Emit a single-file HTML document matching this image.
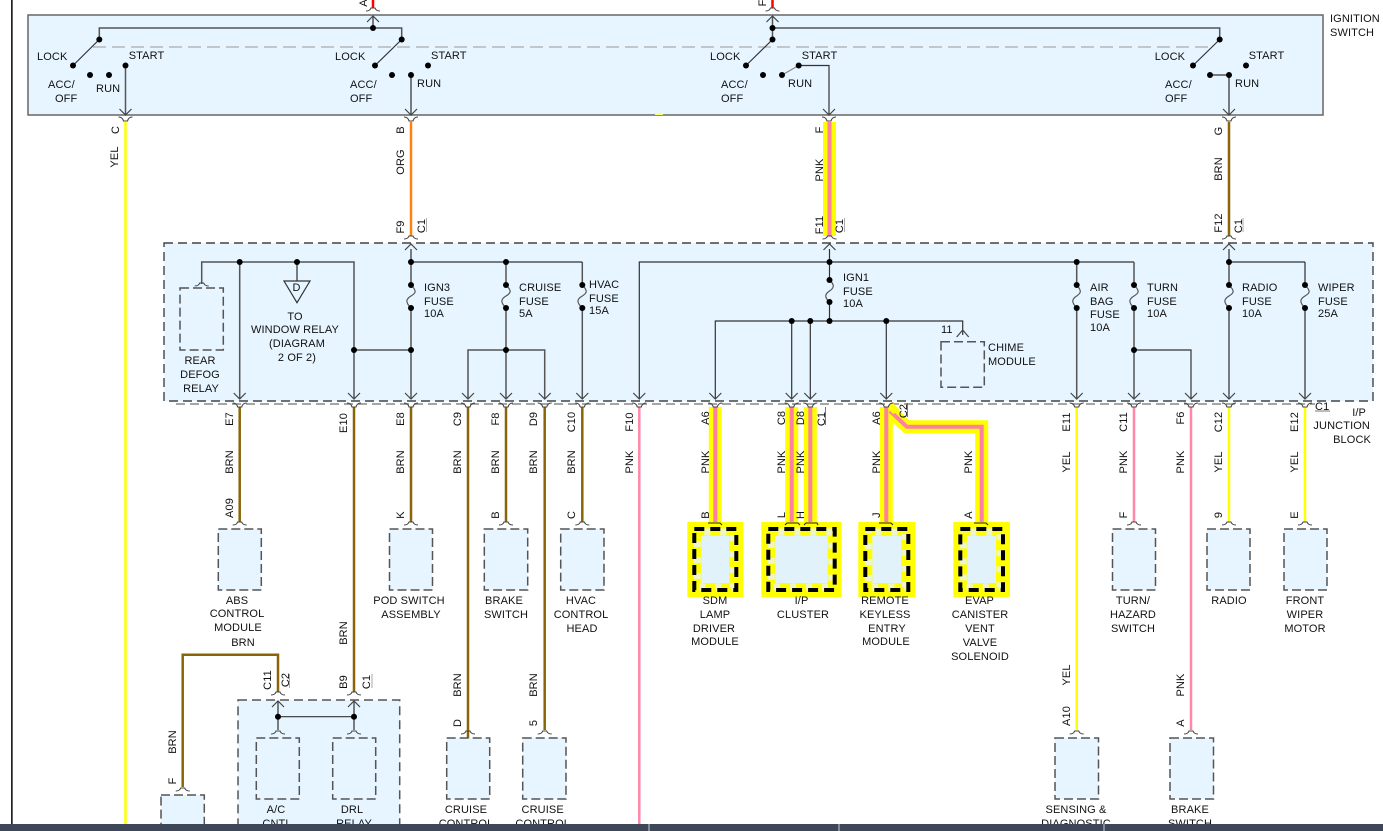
<!DOCTYPE html>
<html><head><meta charset="utf-8"><style>
html,body{margin:0;padding:0;background:#fff;width:1383px;height:831px;overflow:hidden}
svg{display:block}
text{font-family:"Liberation Sans",sans-serif;font-size:11px;fill:#111;letter-spacing:.12px}
.m{text-anchor:middle}
.n{fill:none;stroke:#555;stroke-width:1.5}
.d{fill:none;stroke:#333;stroke-width:1.2}
.b{fill:#e6f5ff;stroke:#555;stroke-width:1.5;stroke-dasharray:9 4}
.br{fill:none;stroke:#8a6508;stroke-width:2.5}
.ye{fill:none;stroke:#ffff00;stroke-width:2.5}
.pk{fill:none;stroke:#ff88a8;stroke-width:2.5}
.hy{fill:none;stroke:#ffff00;stroke-width:13}
.hp{fill:none;stroke:#ff80a0;stroke-width:4}
.hb{fill:#e2f2fa;stroke:#ffff00;stroke-width:14}
.hg{fill:none;stroke:#eef5c8;stroke-width:7;stroke-dasharray:6 10;stroke-dashoffset:-7}
.hk{fill:none;stroke:#000;stroke-width:4;stroke-dasharray:10 6}
</style></head><body>
<svg width="1383" height="831" viewBox="0 0 1383 831" xmlns="http://www.w3.org/2000/svg">
<defs>
<g id="dn"><path d="M-6,-6 L0,0 L6,-6 M0,0" fill="none" stroke="#444" stroke-width="1.2"/></g>
<g id="up"><path d="M-6,6 L0,0 L6,6" fill="none" stroke="#444" stroke-width="1.2"/></g>
<g id="sm"><path d="M-7,-3 Q-3,-3 -2,1 L2,1 Q3,-3 7,-3" fill="none" stroke="#444" stroke-width="1.1"/></g>
<g id="ar"><path d="M-7,3 Q-3,3 -2,0 L2,0 Q3,3 7,3" fill="none" stroke="#444" stroke-width="1.1"/></g>
<circle id="o" r="3" fill="#000"/>
</defs>

<rect x="11" y="0" width="1.7" height="831" fill="#222"/>

<!-- ignition switch -->
<rect x="28" y="15" width="1295" height="100" fill="#e6f5ff" stroke="#666" stroke-width="1.5"/>
<line x1="93" y1="47" x2="1212" y2="47" stroke="#aaa" stroke-width="1.2" stroke-dasharray="13 6"/>
<rect x="655" y="113.5" width="8" height="1.5" fill="#ffff66"/>
<path class="n" d="M99.3,39.5 V28 H401.7 V39.5 M373,16 V28 M772.5,16 V39.5 M772.5,28 H1219.7 V39.5"/>
<line x1="373" y1="0" x2="373" y2="8" stroke="#f00" stroke-width="2.5"/>
<line x1="772.5" y1="0" x2="772.5" y2="8" stroke="#f00" stroke-width="2.5"/>
<use href="#ar" x="373" y="8"/><use href="#ar" x="772.5" y="8"/>
<use href="#up" x="373" y="16"/><use href="#up" x="772.5" y="16"/>
<text transform="translate(367,3) rotate(-90)" class="m">A</text>
<text transform="translate(766,3) rotate(-90)" class="m">F</text>
<path class="d" d="M99.3,39.5 L73,65.5 M401.7,39.5 L375,65.5 M772.5,39.5 L746,65.5 M1219.7,39.5 L1193,65.5"/>
<path class="n" d="M125.5,65.5 V115 M411,75 V115 M1229,75 V115 M1210,75 H1229"/>
<path d="M782,75 L798.7,65.5" stroke="#888" stroke-width="1.2" fill="none"/>
<path class="d" d="M798.7,65.5 H829 V115"/>
<g>
<use href="#o" x="373" y="28"/><use href="#o" x="772.5" y="28"/>
<use href="#o" x="99.3" y="39.5"/><use href="#o" x="401.7" y="39.5"/><use href="#o" x="772.5" y="39.5"/><use href="#o" x="1219.7" y="39.5"/>
<use href="#o" x="73" y="65.5"/><use href="#o" x="90" y="75"/><use href="#o" x="109" y="75"/><use href="#o" x="125.5" y="65.5"/>
<use href="#o" x="375" y="65.5"/><use href="#o" x="392" y="75"/><use href="#o" x="411" y="75"/><use href="#o" x="428" y="65.5"/>
<use href="#o" x="746" y="65.5"/><use href="#o" x="763" y="75"/><use href="#o" x="782" y="75"/><use href="#o" x="798.7" y="65.5"/>
<use href="#o" x="1193" y="65.5"/><use href="#o" x="1210" y="75"/><use href="#o" x="1229" y="75"/><use href="#o" x="1246" y="65.5"/>
</g>
<use href="#dn" x="125.5" y="115"/><use href="#dn" x="411" y="115"/><use href="#dn" x="829" y="115"/><use href="#dn" x="1229" y="115"/>
<use href="#sm" x="125.5" y="120"/><use href="#sm" x="411" y="120"/><use href="#sm" x="829" y="120"/><use href="#sm" x="1229" y="120"/>
<text x="37" y="60">LOCK</text><text x="128.7" y="59">START</text><text x="48" y="88">ACC/</text><text x="55" y="102">OFF</text><text x="96" y="92">RUN</text>
<text x="335" y="60">LOCK</text><text x="431" y="59">START</text><text x="350" y="88">ACC/</text><text x="350" y="102">OFF</text><text x="417" y="87">RUN</text>
<text x="710" y="60">LOCK</text><text x="801.7" y="59">START</text><text x="721" y="88">ACC/</text><text x="721" y="102">OFF</text><text x="788" y="87">RUN</text>
<text x="1154.7" y="60">LOCK</text><text x="1248.7" y="59">START</text><text x="1165" y="88">ACC/</text><text x="1165" y="102">OFF</text><text x="1235" y="87">RUN</text>
<text x="1330" y="22">IGNITION</text><text x="1330" y="36">SWITCH</text>

<!-- junction block -->
<rect x="164" y="243" width="1209" height="158" fill="#e6f5ff" stroke="#444" stroke-width="1.4" stroke-dasharray="9 5"/>
<line x1="176" y1="404" x2="1315" y2="404" stroke="#888" stroke-width="1.4" stroke-dasharray="9 5"/>

<!-- inner wires -->
<path class="n" d="M201.7,284 V262 H354 V399 M239.7,262 V399 M297,262 V281 M354,350 H411 M411,249 V285 M411,308 V399 M506,262 V285 M506,308 V399 M468,399 V350 H544.7 V399 M582.3,262 V285 M582.3,308 V399"/>
<path class="d" d="M411,262 H582.3 M639.3,399 V262 H1134 M829.5,249 V280 M829.5,302 V321 M715.3,399 V321 H962.7 V335 M791.7,321 V399 M810.3,321 V399 M886.3,321 V399 M1134,350 H1191 V399"/>
<path class="n" d="M1076.7,262 V285 M1076.7,308 V399 M1134,262 V285 M1134,308 V399 M1229,249 V285 M1229,308 V399 M1305,262 V285 M1305,308 V399"/>
<path class="d" d="M1229,262 H1305"/>
<!-- fuses -->
<path d="M411,285 C417,291 416,293 411,296 C406,299 405,302 411,308 M506,285 C512,291 511,293 506,296 C501,299 500,302 506,308 M582.3,285 C588,291 587,293 582.3,296 C577,299 576,302 582.3,308 M829.5,280 C835,285 834,288 829.5,291 C825,294 824,297 829.5,302 M1076.7,285 C1082,291 1081,293 1076.7,296 C1072,299 1071,302 1076.7,308 M1134,285 C1140,291 1139,293 1134,296 C1129,299 1128,302 1134,308 M1229,285 C1235,291 1234,293 1229,296 C1224,299 1223,302 1229,308 M1305,285 C1311,291 1310,293 1305,296 C1300,299 1299,302 1305,308" fill="none" stroke="#555" stroke-width="1.2"/>
<g>
<use href="#o" x="239.7" y="262"/><use href="#o" x="297" y="262"/><use href="#o" x="354" y="350"/><use href="#o" x="411" y="262"/><use href="#o" x="411" y="350"/>
<use href="#o" x="411" y="285"/><use href="#o" x="411" y="308"/><use href="#o" x="506" y="262"/><use href="#o" x="506" y="285"/><use href="#o" x="506" y="308"/><use href="#o" x="506" y="350"/>
<use href="#o" x="582.3" y="285"/><use href="#o" x="582.3" y="308"/>
<use href="#o" x="829.5" y="262"/><use href="#o" x="829.5" y="280"/><use href="#o" x="829.5" y="302"/><use href="#o" x="829.5" y="321"/>
<use href="#o" x="791.7" y="321"/><use href="#o" x="810.3" y="321"/><use href="#o" x="886.3" y="321"/>
<use href="#o" x="1076.7" y="262"/><use href="#o" x="1076.7" y="285"/><use href="#o" x="1076.7" y="308"/>
<use href="#o" x="1134" y="285"/><use href="#o" x="1134" y="308"/><use href="#o" x="1134" y="350"/>
<use href="#o" x="1229" y="262"/><use href="#o" x="1229" y="285"/><use href="#o" x="1229" y="308"/>
<use href="#o" x="1305" y="285"/><use href="#o" x="1305" y="308"/>
</g>
<rect class="b" x="180" y="288" width="43.3" height="62"/>
<use href="#ar" x="201.7" y="283"/>
<path d="M284,281 H310 L297,302.7 Z" fill="none" stroke="#333" stroke-width="1.2"/>
<text x="296.5" y="291" class="m">D</text>
<text class="m" x="295" y="320">TO</text><text class="m" x="295" y="333">WINDOW RELAY</text><text class="m" x="297" y="347">(DIAGRAM</text><text class="m" x="297" y="361">2 OF 2)</text>
<text class="m" x="200" y="364">REAR</text><text class="m" x="200" y="378">DEFOG</text><text class="m" x="201" y="392">RELAY</text>
<text x="424" y="291">IGN3</text><text x="424" y="305">FUSE</text><text x="424" y="317">10A</text>
<text x="519" y="291">CRUISE</text><text x="519" y="305">FUSE</text><text x="519" y="317">5A</text>
<text x="589" y="288">HVAC</text><text x="589" y="302">FUSE</text><text x="589" y="314">15A</text>
<text x="843" y="281">IGN1</text><text x="843" y="295">FUSE</text><text x="843" y="307">10A</text>
<text x="1090" y="291">AIR</text><text x="1090" y="305">BAG</text><text x="1090" y="318">FUSE</text><text x="1090" y="331">10A</text>
<text x="1147" y="291">TURN</text><text x="1147" y="305">FUSE</text><text x="1147" y="317">10A</text>
<text x="1242" y="291">RADIO</text><text x="1242" y="305">FUSE</text><text x="1242" y="317">10A</text>
<text x="1318" y="291">WIPER</text><text x="1318" y="305">FUSE</text><text x="1318" y="317">25A</text>
<rect class="b" x="941" y="341.7" width="43.3" height="45.6"/>
<path d="M956.7,337 L962.7,330 L968.7,337" fill="none" stroke="#444" stroke-width="1.2"/>
<text x="941" y="333">11</text>
<text x="988" y="351">CHIME</text><text x="988" y="365">MODULE</text>

<!-- upper wires -->
<line class="br" x1="1229" y1="122" x2="1229" y2="236"/>
<line x1="411" y1="122" x2="411" y2="236" fill="none" stroke="#ff8210" stroke-width="2.5"/>
<line class="hy" x1="829.5" y1="122" x2="829.5" y2="236"/><line class="hp" x1="829.5" y1="122" x2="829.5" y2="236"/>
<use href="#ar" x="411" y="236"/><use href="#ar" x="829.5" y="236"/><use href="#ar" x="1229" y="236"/>
<use href="#up" x="411" y="244"/><use href="#up" x="829.5" y="244"/><use href="#up" x="1229" y="244"/>
<line class="ye" x1="125.5" y1="122" x2="125.5" y2="825"/>

<!-- lower wires -->
<path class="br" d="M239.7,407 V522 M354,407 V692 M411,407 V522 M468,407 V738 M506,407 V522 M544.7,407 V730 M582.3,407 V522"/>
<path class="pk" d="M639.3,407 V825 M1134,407 V522 M1191,407 V730"/>
<path class="ye" d="M1076.7,407 V730 M1229,407 V522 M1305,407 V522"/>
<path class="br" d="M182.7,787 V654.7 H278 V692"/>

<path class="hy" d="M715.3,407 V522 M791.7,407 V522 M810.3,407 V522 M886.3,407 V522 M890,411 L906.7,426.7 H981.7 V522"/>
<path class="hp" d="M715.3,407 V522 M791.7,407 V522 M810.3,407 V522 M886.3,407 V522 M890,411 L906.7,426.7 H981.7 V522"/>
<polygon points="887,407 892,402 900,410 893,414" fill="#ffff00"/>

<!-- arrows at block bottom -->
<g>
<use href="#dn" x="239.7" y="399"/><use href="#dn" x="354" y="399"/><use href="#dn" x="411" y="399"/><use href="#dn" x="468" y="399"/><use href="#dn" x="506" y="399"/><use href="#dn" x="544.7" y="399"/><use href="#dn" x="582.3" y="399"/><use href="#dn" x="639.3" y="399"/><use href="#dn" x="715.3" y="399"/><use href="#dn" x="791.7" y="399"/><use href="#dn" x="810.3" y="399"/><use href="#dn" x="886.3" y="399"/><use href="#dn" x="1076.7" y="399"/><use href="#dn" x="1134" y="399"/><use href="#dn" x="1191" y="399"/><use href="#dn" x="1229" y="399"/><use href="#dn" x="1305" y="399"/>
<use href="#sm" x="239.7" y="406"/><use href="#sm" x="354" y="406"/><use href="#sm" x="411" y="406"/><use href="#sm" x="468" y="406"/><use href="#sm" x="506" y="406"/><use href="#sm" x="544.7" y="406"/><use href="#sm" x="582.3" y="406"/><use href="#sm" x="639.3" y="406"/><use href="#sm" x="715.3" y="406"/><use href="#sm" x="791.7" y="406"/><use href="#sm" x="810.3" y="406"/><use href="#sm" x="886.3" y="406"/><use href="#sm" x="1076.7" y="406"/><use href="#sm" x="1134" y="406"/><use href="#sm" x="1191" y="406"/><use href="#sm" x="1229" y="406"/><use href="#sm" x="1305" y="406"/>
</g>

<!-- module boxes -->
<rect class="b" x="218.3" y="529" width="43" height="61"/>
<rect class="b" x="389.5" y="529" width="43" height="61"/>
<rect class="b" x="484.3" y="529" width="43.4" height="61"/>
<rect class="b" x="560.7" y="529" width="43.3" height="61"/>
<rect class="b" x="1112.5" y="529" width="43" height="61"/>
<rect class="b" x="1207" y="529" width="43" height="61"/>
<rect class="b" x="1284" y="529" width="43" height="61"/>
<use href="#ar" x="239.7" y="522"/><use href="#ar" x="411" y="522"/><use href="#ar" x="506" y="522"/><use href="#ar" x="582.3" y="522"/><use href="#ar" x="1134" y="522"/><use href="#ar" x="1229" y="522"/><use href="#ar" x="1305" y="522"/>

<rect class="b" x="446.7" y="738" width="43" height="61"/>
<rect class="b" x="522.7" y="738" width="43.3" height="61"/>
<rect class="b" x="1055" y="738" width="43.5" height="61"/>
<rect class="b" x="1170" y="738" width="43.5" height="61"/>
<use href="#ar" x="468" y="731"/><use href="#ar" x="544.7" y="731"/><use href="#ar" x="1076.7" y="731"/><use href="#ar" x="1191" y="731"/>

<!-- highlighted boxes -->
<rect class="hb" x="694.3" y="529" width="42" height="61"/><rect class="hg" x="697.3" y="532" width="36" height="55"/><rect class="hk" x="694.3" y="529" width="42" height="61"/>
<rect class="hb" x="768.3" y="529" width="66.4" height="61"/><rect class="hg" x="771.3" y="532" width="60.4" height="55"/><rect class="hk" x="768.3" y="529" width="66.4" height="61"/>
<rect class="hb" x="865.3" y="529" width="43" height="61"/><rect class="hg" x="868.3" y="532" width="37" height="55"/><rect class="hk" x="865.3" y="529" width="43" height="61"/>
<rect class="hb" x="960.3" y="529" width="42.7" height="61"/><rect class="hg" x="963.3" y="532" width="36.7" height="55"/><rect class="hk" x="960.3" y="529" width="42.7" height="61"/>
<path d="M708,523 H720 L722,525 M785,525 L787,523 H798 L800,525 M804,525 L806,523 H817 L818,525 M879,523 H891 L893,525 M974,523 H986 L988,525" fill="none" stroke="#222" stroke-width="1"/>

<!-- DRL block -->
<rect x="238" y="700" width="161.7" height="140" fill="#e6f5ff" stroke="#555" stroke-width="1.5" stroke-dasharray="9 5"/>
<path class="n" d="M278,701 V730 M354,701 V730"/>
<path class="d" d="M278,716.7 H354"/>
<use href="#o" x="278" y="716.7"/><use href="#o" x="354" y="716.7"/>
<use href="#ar" x="278" y="692"/><use href="#ar" x="354" y="692"/>
<use href="#up" x="278" y="701"/><use href="#up" x="354" y="701"/>
<rect class="b" x="256.3" y="738" width="43" height="61"/>
<rect class="b" x="332.7" y="738" width="43" height="61"/>
<use href="#ar" x="278" y="731"/><use href="#ar" x="354" y="731"/>
<rect class="b" x="161" y="795" width="43.3" height="40"/>
<use href="#ar" x="182.7" y="788"/>

<!-- rotated labels -->
<g>
<text transform="translate(119,130) rotate(-90)" class="m">C</text>
<text transform="translate(118,157) rotate(-90)" class="m">YEL</text>
<text transform="translate(404,130) rotate(-90)" class="m">B</text>
<text transform="translate(404,162) rotate(-90)" class="m">ORG</text>
<text transform="translate(404,227) rotate(-90)" class="m">F9</text>
<text transform="translate(425,226) rotate(-90)" class="m">C1</text>
<text transform="translate(823,130) rotate(-90)" class="m">F</text>
<text transform="translate(823,170) rotate(-90)" class="m">PNK</text>
<text transform="translate(823,225) rotate(-90)" class="m">F11</text>
<text transform="translate(843,226) rotate(-90)" class="m">C1</text>
<text transform="translate(1222,131) rotate(-90)" class="m">G</text>
<text transform="translate(1222,169) rotate(-90)" class="m">BRN</text>
<text transform="translate(1222,223) rotate(-90)" class="m">F12</text>
<text transform="translate(1242,226) rotate(-90)" class="m">C1</text>

<text transform="translate(233,419) rotate(-90)" class="m">E7</text>
<text transform="translate(233,462) rotate(-90)" class="m">BRN</text>
<text transform="translate(233,508) rotate(-90)" class="m">A09</text>
<text transform="translate(347,423) rotate(-90)" class="m">E10</text>
<text transform="translate(347,633) rotate(-90)" class="m">BRN</text>
<text transform="translate(404,419) rotate(-90)" class="m">E8</text>
<text transform="translate(404,462) rotate(-90)" class="m">BRN</text>
<text transform="translate(404,515) rotate(-90)" class="m">K</text>
<text transform="translate(461,419) rotate(-90)" class="m">C9</text>
<text transform="translate(461,462) rotate(-90)" class="m">BRN</text>
<text transform="translate(461,685) rotate(-90)" class="m">BRN</text>
<text transform="translate(461,723) rotate(-90)" class="m">D</text>
<text transform="translate(499,419) rotate(-90)" class="m">F8</text>
<text transform="translate(499,462) rotate(-90)" class="m">BRN</text>
<text transform="translate(499,515) rotate(-90)" class="m">B</text>
<text transform="translate(537,419) rotate(-90)" class="m">D9</text>
<text transform="translate(537,462) rotate(-90)" class="m">BRN</text>
<text transform="translate(537,685) rotate(-90)" class="m">BRN</text>
<text transform="translate(537,723) rotate(-90)" class="m">5</text>
<text transform="translate(575,422) rotate(-90)" class="m">C10</text>
<text transform="translate(575,462) rotate(-90)" class="m">BRN</text>
<text transform="translate(575,515) rotate(-90)" class="m">C</text>
<text transform="translate(633,422) rotate(-90)" class="m">F10</text>
<text transform="translate(633,462) rotate(-90)" class="m">PNK</text>

<text transform="translate(709,418) rotate(-90)" class="m">A6</text>
<text transform="translate(709,462) rotate(-90)" class="m">PNK</text>
<text transform="translate(709,515) rotate(-90)" class="m">B</text>
<text transform="translate(785,418) rotate(-90)" class="m">C8</text>
<text transform="translate(785,462) rotate(-90)" class="m">PNK</text>
<text transform="translate(785,515) rotate(-90)" class="m">L</text>
<text transform="translate(804,418) rotate(-90)" class="m">D8</text>
<text transform="translate(804,462) rotate(-90)" class="m">PNK</text>
<text transform="translate(804,515) rotate(-90)" class="m">H</text>
<text transform="translate(825,419) rotate(-90)" class="m">C1</text>
<text transform="translate(880,418) rotate(-90)" class="m">A6</text>
<text transform="translate(880,462) rotate(-90)" class="m">PNK</text>
<text transform="translate(880,515) rotate(-90)" class="m">J</text>
<text transform="translate(907,411) rotate(-90)" class="m">C2</text>
<text transform="translate(972,462) rotate(-90)" class="m">PNK</text>
<text transform="translate(972,515) rotate(-90)" class="m">A</text>

<text transform="translate(1070,422) rotate(-90)" class="m">E11</text>
<text transform="translate(1070,462) rotate(-90)" class="m">YEL</text>
<text transform="translate(1070,675) rotate(-90)" class="m">YEL</text>
<text transform="translate(1070,716) rotate(-90)" class="m">A10</text>
<text transform="translate(1127,422) rotate(-90)" class="m">C11</text>
<text transform="translate(1127,462) rotate(-90)" class="m">PNK</text>
<text transform="translate(1127,515) rotate(-90)" class="m">F</text>
<text transform="translate(1184,418) rotate(-90)" class="m">F6</text>
<text transform="translate(1184,462) rotate(-90)" class="m">PNK</text>
<text transform="translate(1184,685) rotate(-90)" class="m">PNK</text>
<text transform="translate(1184,723) rotate(-90)" class="m">A</text>
<text transform="translate(1222,422) rotate(-90)" class="m">C12</text>
<text transform="translate(1222,462) rotate(-90)" class="m">YEL</text>
<text transform="translate(1222,515) rotate(-90)" class="m">9</text>
<text transform="translate(1298,422) rotate(-90)" class="m">E12</text>
<text transform="translate(1298,462) rotate(-90)" class="m">YEL</text>
<text transform="translate(1298,515) rotate(-90)" class="m">E</text>

<text transform="translate(176,742) rotate(-90)" class="m">BRN</text>
<text transform="translate(176,781) rotate(-90)" class="m">F</text>
<text transform="translate(271,680) rotate(-90)" class="m">C11</text>
<text transform="translate(289,680) rotate(-90)" class="m">C2</text>
<text transform="translate(347,682) rotate(-90)" class="m">B9</text>
<text transform="translate(370,682) rotate(-90)" class="m">C1</text>
</g>
<path d="M426.5,218 V232 M844.5,218 V232 M1243,218 V232 M289.5,674 V688 M372,674 V688" stroke="#aaa" stroke-width="1" fill="none"/>
<path d="M825.5,407 V425 M907.5,403 V417" stroke="#555" stroke-width="0.8" fill="none"/>

<text x="1315" y="410">C1</text>
<line x1="1315" y1="411" x2="1330" y2="411" stroke="#555" stroke-width="0.8"/>
<text x="1366" y="416" text-anchor="end">I/P</text>
<text x="1370" y="429" text-anchor="end">JUNCTION</text>
<text x="1371" y="443" text-anchor="end">BLOCK</text>

<!-- module labels -->
<g class="m">
<text class="m" x="237" y="604">ABS</text><text class="m" x="237" y="617">CONTROL</text><text class="m" x="238" y="631">MODULE</text><text class="m" x="243" y="646">BRN</text>
<text class="m" x="409" y="604">POD SWITCH</text><text class="m" x="411" y="618">ASSEMBLY</text>
<text class="m" x="504" y="604">BRAKE</text><text class="m" x="506" y="618">SWITCH</text>
<text class="m" x="581" y="604">HVAC</text><text class="m" x="581" y="618">CONTROL</text><text class="m" x="582" y="632">HEAD</text>
<text class="m" x="715" y="604">SDM</text><text class="m" x="715" y="618">LAMP</text><text class="m" x="714" y="632">DRIVER</text><text class="m" x="715" y="645">MODULE</text>
<text class="m" x="801.5" y="604">I/P</text><text class="m" x="803" y="618">CLUSTER</text>
<text class="m" x="885" y="604">REMOTE</text><text class="m" x="885" y="618">KEYLESS</text><text class="m" x="887" y="632">ENTRY</text><text class="m" x="886" y="645">MODULE</text>
<text class="m" x="979.5" y="604">EVAP</text><text class="m" x="980" y="618">CANISTER</text><text class="m" x="980" y="632">VENT</text><text class="m" x="980" y="646">VALVE</text><text class="m" x="980" y="660">SOLENOID</text>
<text class="m" x="1133" y="604">TURN/</text><text class="m" x="1133" y="618">HAZARD</text><text class="m" x="1133" y="632">SWITCH</text>
<text class="m" x="1229" y="604">RADIO</text>
<text class="m" x="1305" y="604">FRONT</text><text class="m" x="1305" y="618">WIPER</text><text class="m" x="1305" y="632">MOTOR</text>
<text class="m" x="276" y="813">A/C</text><text class="m" x="277" y="827">CNTL</text>
<text class="m" x="352" y="813">DRL</text><text class="m" x="354" y="827">RELAY</text>
<text class="m" x="466" y="813">CRUISE</text><text class="m" x="466" y="827">CONTROL</text>
<text class="m" x="542.7" y="813">CRUISE</text><text class="m" x="542.7" y="827">CONTROL</text>
<text class="m" x="1076" y="813">SENSING &amp;</text><text class="m" x="1076" y="827">DIAGNOSTIC</text>
<text class="m" x="1190" y="813">BRAKE</text><text class="m" x="1190" y="827">SWITCH</text>
</g>

<!-- bottom bar -->
<rect x="0" y="824" width="1383" height="7" fill="#3d4757"/>
<rect x="648.5" y="824" width="1" height="7" fill="#c8ccd2"/>
<rect x="838.5" y="824" width="1" height="7" fill="#c8ccd2"/>
<rect x="1103.5" y="824" width="1" height="7" fill="#c8ccd2"/>
</svg>
</body></html>
